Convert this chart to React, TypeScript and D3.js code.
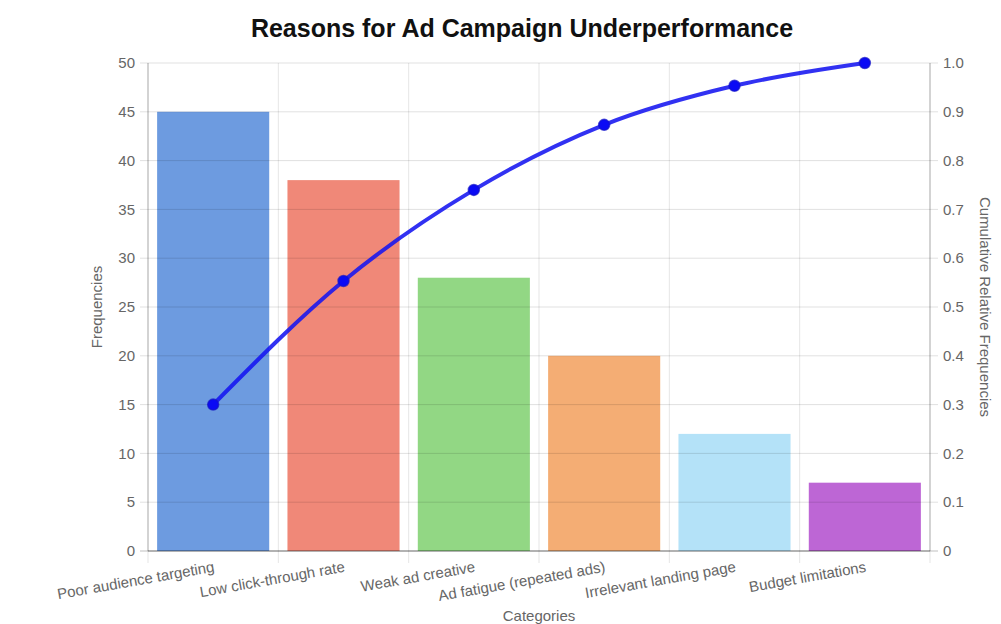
import { useEffect, useRef } from "react"
import * as d3 from "d3"

const categories = [
  "Poor audience targeting",
  "Low click-through rate",
  "Weak ad creative",
  "Ad fatigue (repeated ads)",
  "Irrelevant landing page",
  "Budget limitations",
]
const frequencies = [45, 38, 28, 20, 12, 7]
const barColors = ["#6d9be0", "#f08878", "#92d784", "#f4ad74", "#b4e2f8", "#bd66d5"]
const leftTicks = [0, 5, 10, 15, 20, 25, 30, 35, 40, 45, 50]
const rightTicks = [0, 0.1, 0.2, 0.3, 0.4, 0.5, 0.6, 0.7, 0.8, 0.9, 1.0]

const W = 1001, H = 624
const M = { top: 63, right: 71, bottom: 73, left: 148 }
const FONT = "'Liberation Sans', Arial, Helvetica, sans-serif"

export default function App() {
  const ref = useRef<SVGSVGElement>(null)

  useEffect(() => {
    const svg = d3.select(ref.current!)
    svg.selectAll("*").remove()
    const iw = W - M.left - M.right
    const ih = H - M.top - M.bottom
    const total = d3.sum(frequencies)
    const cumulative = d3.cumsum(frequencies).map(v => v / total)

    const x = d3.scaleBand<string>().domain(categories).range([M.left, M.left + iw]).padding(0)
    const y = d3.scaleLinear().domain([0, 50]).range([M.top + ih, M.top])
    const y2 = d3.scaleLinear().domain([0, 1]).range([M.top + ih, M.top])
    const bw = x.bandwidth()
    const inset = bw * 0.07

    svg.append("text")
      .attr("x", 522).attr("y", 37)
      .attr("text-anchor", "middle")
      .attr("font-family", FONT).attr("font-size", 25).attr("font-weight", "bold")
      .attr("fill", "#111")
      .text("Reasons for Ad Campaign Underperformance")

    // vertical grid at band edges
    const edges = categories.map(c => x(c)!).concat([M.left + iw])
    svg.append("g").selectAll("line").data(edges).join("line")
      .attr("x1", d => d).attr("x2", d => d)
      .attr("y1", M.top).attr("y2", M.top + ih + 12)
      .attr("stroke", "rgba(0,0,0,0.1)")

    // bars
    svg.append("g").selectAll("rect").data(frequencies).join("rect")
      .attr("x", (_, i) => x(categories[i])! + inset)
      .attr("width", bw - 2 * inset)
      .attr("y", d => y(d))
      .attr("height", d => y(0) - y(d))
      .attr("fill", (_, i) => barColors[i])

    // horizontal grid over bars
    svg.append("g").selectAll("line").data(leftTicks).join("line")
      .attr("x1", M.left - 8).attr("x2", M.left + iw + 8)
      .attr("y1", d => y(d)).attr("y2", d => y(d))
      .attr("stroke", d => d === 0 ? "rgba(0,0,0,0.25)" : "rgba(0,0,0,0.12)")

    // axis lines
    svg.append("line")
      .attr("x1", M.left).attr("x2", M.left).attr("y1", M.top).attr("y2", M.top + ih)
      .attr("stroke", "rgba(0,0,0,0.25)")
    svg.append("line")
      .attr("x1", M.left + iw).attr("x2", M.left + iw).attr("y1", M.top).attr("y2", M.top + ih)
      .attr("stroke", "rgba(0,0,0,0.25)")
    svg.append("line")
      .attr("x1", M.left).attr("x2", M.left + iw).attr("y1", M.top + ih).attr("y2", M.top + ih)
      .attr("stroke", "rgba(0,0,0,0.4)")

    // left tick labels
    svg.append("g").selectAll("text").data(leftTicks).join("text")
      .attr("x", M.left - 13).attr("y", d => y(d)).attr("dy", "0.35em")
      .attr("text-anchor", "end")
      .attr("font-family", FONT).attr("font-size", 15).attr("fill", "#666")
      .text(d => String(d))

    // right tick labels
    svg.append("g").selectAll("text").data(rightTicks).join("text")
      .attr("x", M.left + iw + 13).attr("y", d => y2(d)).attr("dy", "0.35em")
      .attr("text-anchor", "start")
      .attr("font-family", FONT).attr("font-size", 15).attr("fill", "#666")
      .text(d => d === 0 ? "0" : d.toFixed(1))

    // category labels, rotated
    svg.append("g").selectAll("text").data(categories).join("text")
      .attr("transform", c => `translate(${x(c)! + bw / 2},${M.top + ih + 10}) rotate(-10)`)
      .attr("text-anchor", "end")
      .attr("dy", "0.72em")
      .attr("font-family", FONT).attr("font-size", 15).attr("fill", "#666")
      .text(c => c)

    // axis titles
    svg.append("text")
      .attr("x", 539).attr("y", 621)
      .attr("text-anchor", "middle")
      .attr("font-family", FONT).attr("font-size", 15).attr("fill", "#666")
      .text("Categories")
    svg.append("text")
      .attr("transform", `translate(102,${M.top + ih / 2}) rotate(-90)`)
      .attr("text-anchor", "middle")
      .attr("font-family", FONT).attr("font-size", 15).attr("fill", "#666")
      .text("Frequencies")
    svg.append("text")
      .attr("transform", `translate(980,${M.top + ih / 2}) rotate(90)`)
      .attr("text-anchor", "middle")
      .attr("font-family", FONT).attr("font-size", 15).attr("fill", "#666")
      .text("Cumulative Relative Frequencies")

    // cumulative line
    const line = d3.line<number>()
      .x((_, i) => x(categories[i])! + bw / 2)
      .y(d => y2(d))
      .curve(d3.curveMonotoneX)
    svg.append("path")
      .attr("d", line(cumulative) || "")
      .attr("fill", "none")
      .attr("stroke", "rgba(20,20,240,0.88)")
      .attr("stroke-width", 4)
    svg.append("g").selectAll("circle").data(cumulative).join("circle")
      .attr("cx", (_, i) => x(categories[i])! + bw / 2)
      .attr("cy", d => y2(d))
      .attr("r", 5.5)
      .attr("fill", "#0a0af5")
      .attr("stroke", "rgba(20,20,200,0.7)")
      .attr("stroke-width", 1.5)
  }, [])

  return (
    <svg
      ref={ref}
      width={W}
      height={H}
      style={{ position: "absolute", left: 0, top: 0, background: "#fff" }}
    />
  )
}
